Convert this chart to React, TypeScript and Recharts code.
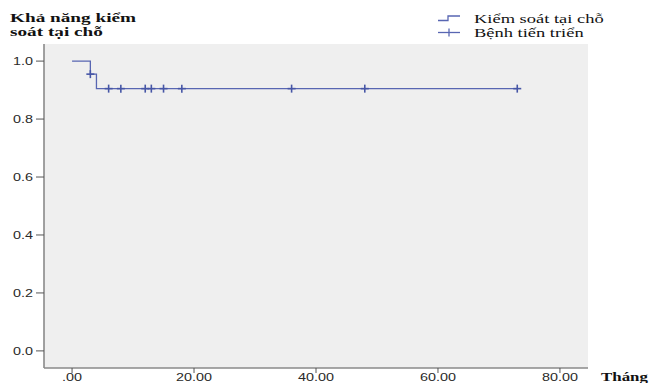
import React from "react"
import { CartesianGrid, ComposedChart, Line, Scatter, XAxis, YAxis } from "recharts"

// Kaplan-Meier step curve (months, local control probability)
const stepTimes = [0, 3, 4, 73]
const stepSurvival = [1.0, 0.955, 0.905, 0.905]

// censored observations ("Bệnh tiến triển" markers)
const censorTimes = [3, 6, 8, 12, 13, 15, 18, 36, 48, 73]
const censorSurvival = [0.955, 0.905, 0.905, 0.905, 0.905, 0.905, 0.905, 0.905, 0.905, 0.905]

const xTicks = [0, 20, 40, 60, 80]
const yTicks = [0, 0.2, 0.4, 0.6, 0.8, 1.0]

const titleLines = ["Khả năng kiểm", "soát tại chỗ"]
const legendNames = ["Kiểm soát tại chỗ", "Bệnh tiến triển"]
const xTitle = "Tháng"

const W = 655
const H = 383
const LINE = "#5866b2"
const BORDER = "#8a8a8a"
const STRETCH = 1.37

const stepData = stepTimes.map((t, i) => ({ t, s: stepSurvival[i] }))
const censorData = censorTimes.map((t, i) => ({ t, s: censorSurvival[i] }))

const fmtX = (v: number) => (v === 0 ? ".00" : v.toFixed(2))

const XTick = (props: any) => {
  const { x, y, payload } = props
  return (
    <g transform={`translate(${x},${y})`}>
      <text transform={`scale(${STRETCH},1)`} textAnchor="middle" dy="0.71em"
        fontFamily="'Liberation Sans', Arial, sans-serif" fontSize={10.5} fill="#2a2a2a">
        {fmtX(payload.value)}
      </text>
    </g>
  )
}

const YTick = (props: any) => {
  const { x, y, payload } = props
  return (
    <g transform={`translate(${x},${y})`}>
      <text transform={`scale(${STRETCH},1)`} textAnchor="end" dy="0.355em"
        fontFamily="'Liberation Sans', Arial, sans-serif" fontSize={10.5} fill="#2a2a2a">
        {payload.value.toFixed(1)}
      </text>
    </g>
  )
}

const plusShape = (props: any) => {
  const { cx, cy } = props
  return (
    <g stroke="#4656a6" strokeWidth={1.6}>
      <line x1={cx - 4} y1={cy} x2={cx + 4} y2={cy} />
      <line x1={cx} y1={cy - 4} x2={cx} y2={cy + 4} />
    </g>
  )
}

const serif = "'Liberation Serif', 'Times New Roman', serif"

const Overlay = () => (
  <svg width={W} height={H} style={{ position: "absolute", left: 0, top: 0, pointerEvents: "none" }}>
    {titleLines.map((l, i) => (
      <text key={l} transform={`translate(10,${22 + i * 14}) scale(1.48,1)`}
        fontFamily={serif} fontWeight="bold" fontSize={13} fill="#111">{l}</text>
    ))}
    <path d="M438,20.5 H448 V16 H460" fill="none" stroke={LINE} strokeWidth={1.3} />
    <line x1={438} y1={32.5} x2={460} y2={32.5} stroke={LINE} strokeWidth={1.3} />
    <line x1={449} y1={28.5} x2={449} y2={36.5} stroke={LINE} strokeWidth={1.3} />
    {legendNames.map((l, i) => (
      <text key={l} transform={`translate(474,${23 + i * 13.5}) scale(1.42,1)`}
        fontFamily={serif} fontSize={13} fill="#111">{l}</text>
    ))}
    <text transform={`translate(601,381) scale(1.3,1)`}
      fontFamily={serif} fontWeight="bold" fontSize={13} fill="#111">{xTitle}</text>
  </svg>
)

export default function App() {
  return (
    <div style={{ position: "absolute", left: 0, top: 0, width: W, height: H, background: "#fff" }}>
      <ComposedChart width={W} height={H} margin={{ top: 44, right: 67, bottom: 0, left: 0 }}>
        <CartesianGrid horizontal={false} vertical={false} fill="#efefef" />
        <XAxis dataKey="t" type="number" domain={[-4.6, 84.6]} ticks={xTicks} allowDataOverflow
          height={15} tickSize={5} tickMargin={1} tick={<XTick />}
          axisLine={{ stroke: BORDER, strokeWidth: 1.6 }} tickLine={{ stroke: "#555" }} />
        <YAxis dataKey="s" type="number" domain={[-0.059, 1.059]} ticks={yTicks} allowDataOverflow
          width={44} tickSize={8} tickMargin={3} tick={<YTick />}
          axisLine={{ stroke: BORDER, strokeWidth: 1.6 }} tickLine={{ stroke: "#555" }} />
        <XAxis xAxisId="top" orientation="top" type="number" domain={[-4.6, 84.6]} height={0}
          tick={false} tickLine={false} axisLine={{ stroke: BORDER, strokeWidth: 1.6 }} />
        <YAxis yAxisId="right" orientation="right" type="number" domain={[-0.059, 1.059]} width={0}
          tick={false} tickLine={false} axisLine={{ stroke: BORDER, strokeWidth: 1.6 }} />
        <Line data={stepData} dataKey="s" type="stepAfter" stroke={LINE} strokeWidth={1.3}
          dot={false} activeDot={false} isAnimationActive={false} />
        <Scatter data={censorData} dataKey="s" shape={plusShape} isAnimationActive={false} />
      </ComposedChart>
      <Overlay />
    </div>
  )
}
